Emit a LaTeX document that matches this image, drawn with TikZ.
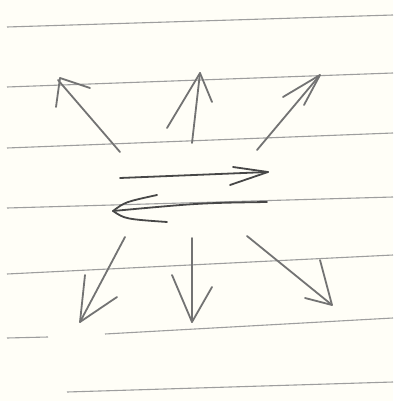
\documentclass[tikz,border=0pt]{standalone}
\begin{document}
\begin{tikzpicture}[x=1pt,y=-1pt,
  rule/.style={draw=black!38,line width=1.1pt},
  pencil/.style={draw=black!55,line width=1.8pt,line cap=round,line join=round},
  darkpencil/.style={draw=black!72,line width=1.8pt,line cap=round,line join=round}]
\fill[black!4!yellow!3!white] (0,0) rectangle (393,401);
\useasboundingbox (0,0) rectangle (393,401);
% ruled lines
\draw[rule] (7,27) -- (393,15);
\draw[rule] (7,87) -- (393,73);
\draw[rule] (7,148) -- (393,133);
\draw[rule] (7,208) -- (393,197);
\draw[rule] (7,274) -- (393,255);
\draw[rule] (7,338) -- (48,337);
\draw[rule] (105,334) -- (393,318);
\draw[rule] (67,392) -- (393,382);
% arrow end points
\coordinate (ulA) at (120,152); \coordinate (ulT) at (58,80);
\coordinate (umA) at (192,143); \coordinate (umT) at (200,73);
\coordinate (urA) at (257,150); \coordinate (urT) at (320,75);
\coordinate (rA) at (120,178); \coordinate (rT) at (268,172);
\coordinate (lA) at (267,202); \coordinate (lT) at (113,211);
\coordinate (llA) at (125,237); \coordinate (llT) at (80,322);
\coordinate (lmA) at (192,238); \coordinate (lmT) at (192,322);
\coordinate (lrA) at (247,236); \coordinate (lrT) at (332,305);
% upper left
\draw[pencil] (ulA) -- (ulT);
\draw[pencil] (90,88) -- (60,78) -- (56,107);
% upper middle
\draw[pencil] (umA) -- (umT);
\draw[pencil] (167,128) -- (umT) -- (212,102);
% upper right
\draw[pencil] (urA) -- (urT);
\draw[pencil] (283,97) -- (urT) -- (304,105);
% right
\draw[darkpencil] (rA) -- (rT);
\draw[darkpencil] (233,167) -- (rT) -- (230,185);
% left
\draw[darkpencil] (lA) .. controls (200,203) .. (lT);
\draw[darkpencil] (157,195) .. controls (125,202) .. (lT) .. controls (125,219) .. (167,222);
% lower left
\draw[pencil] (llA) -- (llT);
\draw[pencil] (85,275) -- (llT) -- (117,297);
% lower middle
\draw[pencil] (lmA) -- (lmT);
\draw[pencil] (172,275) -- (lmT) -- (212,287);
% lower right
\draw[pencil] (lrA) -- (lrT);
\draw[pencil] (320,260) -- (lrT) -- (305,298);
\end{tikzpicture}
\end{document}
